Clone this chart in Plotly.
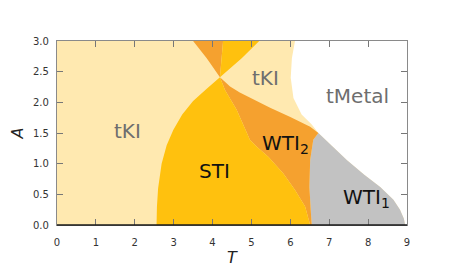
import plotly.graph_objects as go

# ---- phase boundary curves (T, A) ----
# C1: left boundary of STI, from bottom up through the crossing to the top
c1_T = [2.56, 2.57, 2.60, 2.69, 2.82, 2.99, 3.22, 3.50, 3.85, 4.19, 4.47, 4.75, 5.20]
c1_A = [0.00, 0.30, 0.60, 1.00, 1.30, 1.55, 1.80, 2.02, 2.22, 2.41, 2.57, 2.72, 3.00]
# C2: upper boundary of WTI2, from top through the crossing to the triple point
c2_T = [3.50, 3.85, 4.19, 4.45, 4.70, 5.00, 5.48, 6.00, 6.51, 6.72]
c2_A = [3.00, 2.72, 2.41, 2.26, 2.16, 2.06, 1.91, 1.76, 1.60, 1.50]
# C3: right boundary of STI, from top through the crossing down to the T axis
c3_T = [4.27, 4.23, 4.19, 4.32, 4.62, 4.96, 5.13, 5.44, 5.82, 6.12, 6.38, 6.51]
c3_A = [3.00, 2.70, 2.41, 2.20, 1.88, 1.39, 1.28, 1.11, 0.84, 0.57, 0.30, 0.00]
# C4: left boundary of WTI1
c4_T = [6.72, 6.59, 6.51, 6.49, 6.53, 6.55]
c4_A = [1.50, 1.39, 1.06, 0.62, 0.19, 0.00]
# C5: right boundary of WTI1 (toward tMetal)
c5_T = [6.72, 7.00, 7.45, 7.90, 8.31, 8.65, 8.82, 8.92, 8.95]
c5_A = [1.50, 1.33, 1.06, 0.82, 0.62, 0.41, 0.25, 0.10, 0.00]
# C6: tKI / tMetal boundary, from the top down to the triple point
c6_T = [6.12, 6.04, 6.01, 6.08, 6.29, 6.55, 6.72]
c6_A = [3.00, 2.72, 2.40, 2.07, 1.80, 1.64, 1.50]

T_MIN, T_MAX, A_MIN, A_MAX = 0, 9, 0, 3
x_ticks = [0, 1, 2, 3, 4, 5, 6, 7, 8, 9]
y_ticks = [0.0, 0.5, 1.0, 1.5, 2.0, 2.5, 3.0]

labels = ["tKI", "tKI", "tMetal", "STI", "WTI<sub>2</sub>", "WTI<sub>1</sub>"]
label_T = [1.82, 5.35, 7.72, 4.06, 5.87, 7.95]
label_A = [1.53, 2.40, 2.10, 0.88, 1.32, 0.44]
label_colors = ["#6e6e6e", "#6e6e6e", "#6e6e6e", "#111111", "#111111", "#111111"]

C_TKI = "#FFE9B0"
C_STI = "#FFC10E"
C_WTI2 = "#F5A12F"
C_WTI1 = "#C2C2C2"

ix = c1_T.index(4.19)
i2 = c2_T.index(4.19)
i3 = c3_T.index(4.19)

def poly(xs, ys, color):
    return go.Scatter(x=xs, y=ys, mode="lines", fill="toself", fillcolor=color,
                      line=dict(width=0, color=color), hoverinfo="skip", showlegend=False)

fig = go.Figure()

# tKI (everything left of the metal boundary)
fig.add_trace(poly([T_MIN, T_MIN] + c6_T + c5_T[1:],
                   [A_MIN, A_MAX] + c6_A + c5_A[1:], C_TKI))
# WTI1
fig.add_trace(poly(c4_T + c5_T[::-1], c4_A + c5_A[::-1], C_WTI1))
# WTI2 lower
fig.add_trace(poly(c2_T[i2:] + c4_T[1:] + c3_T[i3:][::-1],
                   c2_A[i2:] + c4_A[1:] + c3_A[i3:][::-1], C_WTI2))
# WTI2 upper
fig.add_trace(poly(c2_T[:i2 + 1] + c3_T[:i3][::-1],
                   c2_A[:i2 + 1] + c3_A[:i3][::-1], C_WTI2))
# STI lower
fig.add_trace(poly(c1_T[:ix + 1] + c3_T[i3 + 1:],
                   c1_A[:ix + 1] + c3_A[i3 + 1:], C_STI))
# STI upper
fig.add_trace(poly(c1_T[ix:] + c3_T[:i3],
                   c1_A[ix:] + c3_A[:i3], C_STI))

for t, a, s, c in zip(label_T, label_A, labels, label_colors):
    fig.add_annotation(x=t, y=a, text=s, showarrow=False,
                       font=dict(family="DejaVu Sans", size=20, color=c))

# black bottom spine
fig.add_shape(type="line", xref="paper", yref="paper", x0=0, x1=1, y0=0, y1=0,
              line=dict(color="#1a1a1a", width=1.6), layer="above")

fig.update_layout(
    width=455, height=270,
    margin=dict(l=49, r=56, t=33, b=53),
    paper_bgcolor="white", plot_bgcolor="white",
    font=dict(family="DejaVu Sans", size=10, color="#333333"),
    xaxis=dict(range=[T_MIN, T_MAX], tickvals=x_ticks, ticks="inside", ticklen=6,
               tickcolor="#777777", showline=True, linecolor="#8a8a8a", linewidth=1.2,
               mirror="ticks", showgrid=False, zeroline=False, ticklabelstandoff=8,
               automargin=False,
               title=dict(text="<i>T</i>", font=dict(size=16, color="#222222"), standoff=4)),
    yaxis=dict(range=[A_MIN, A_MAX], tickvals=y_ticks, tickformat=".1f", ticks="inside",
               ticklen=6, tickcolor="#777777", showline=True, linecolor="#8a8a8a",
               linewidth=1.2, mirror="ticks", showgrid=False, zeroline=False,
               ticklabelstandoff=5, automargin=False,
               title=dict(text="<i>A</i>", font=dict(size=16, color="#222222"), standoff=19)),
)

fig.write_html("out.html")
